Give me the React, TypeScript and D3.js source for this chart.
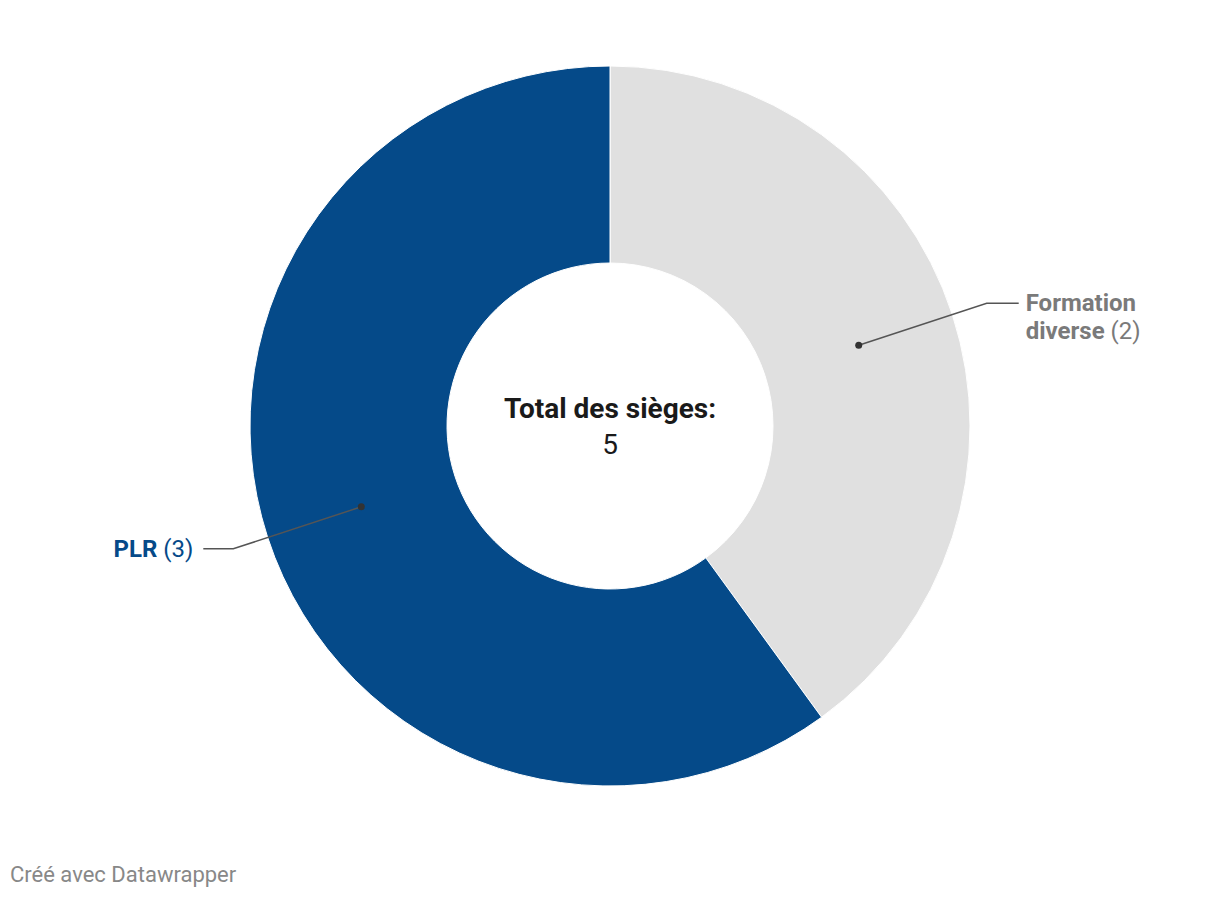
import React from "react";
import * as d3 from "d3";

const categories = ["Formation diverse", "PLR"];
const labelLines = [["Formation", "diverse"], ["PLR"]];
const values = [2, 3];
const colors = ["#e0e0e0", "#054a89"];
const labelColors = ["#7a7a7a", "#054a89"];
const centerTitle = "Total des sièges:";
const footer = "Créé avec Datawrapper";

const W = 1220;
const H = 898;
const CX = 610;
const CY = 426;
const R_OUT = 360;
const R_IN = 163;

export default function App() {
  const pie = d3.pie<number>().sort(null).value((d) => d);
  const arcs = pie(values);
  const arcGen = d3.arc<d3.PieArcDatum<number>>().innerRadius(R_IN).outerRadius(R_OUT);
  const total = d3.sum(values);
  const font = "Roboto, sans-serif";

  return (
    <svg width={W} height={H} style={{ position: "absolute", left: 0, top: 0, background: "#fff" }} fontFamily={font}>
      <g transform={`translate(${CX},${CY})`}>
        {arcs.map((a, i) => (
          <path key={i} d={arcGen(a) || ""} fill={colors[i]} stroke="#fff" strokeWidth={1} />
        ))}
        {arcs.map((a, i) => {
          const [px, py] = arcGen.centroid(a);
          const right = px > 0;
          const elbowX = right ? px + 128 : px - 128;
          const elbowY = py + (right ? -42 : 42);
          const endX = right ? elbowX + 32 : elbowX - 30;
          const textX = right ? endX + 7 : endX - 10;
          const lines = labelLines[i];
          const lh = 28;
          const firstBaseline = elbowY + 8;
          return (
            <g key={"l" + i}>
              <polyline
                points={`${px},${py} ${elbowX},${elbowY} ${endX},${elbowY}`}
                fill="none"
                stroke="#555"
                strokeWidth={1.5}
              />
              <circle cx={px} cy={py} r={3.5} fill="#333" />
              <text
                x={textX}
                y={firstBaseline}
                textAnchor={right ? "start" : "end"}
                fontSize={24}
                fill={labelColors[i]}
              >
                {lines.map((ln, j) => (
                  <tspan key={j} x={textX} dy={j === 0 ? 0 : lh}>
                    <tspan fontWeight={700}>{ln}</tspan>
                    {j === lines.length - 1 ? (
                      <tspan fontWeight={400}>{` (${values[i]})`}</tspan>
                    ) : null}
                  </tspan>
                ))}
              </text>
            </g>
          );
        })}
        <text x={0} y={-8} textAnchor="middle" fontSize={28} fontWeight={700} fill="#1a1a1a">
          {centerTitle}
        </text>
        <text x={0} y={28} textAnchor="middle" fontSize={28} fontWeight={400} fill="#1a1a1a">
          {total}
        </text>
      </g>
      <text x={10} y={882} fontSize={22} fill="#888">
        {footer}
      </text>
    </svg>
  );
}
